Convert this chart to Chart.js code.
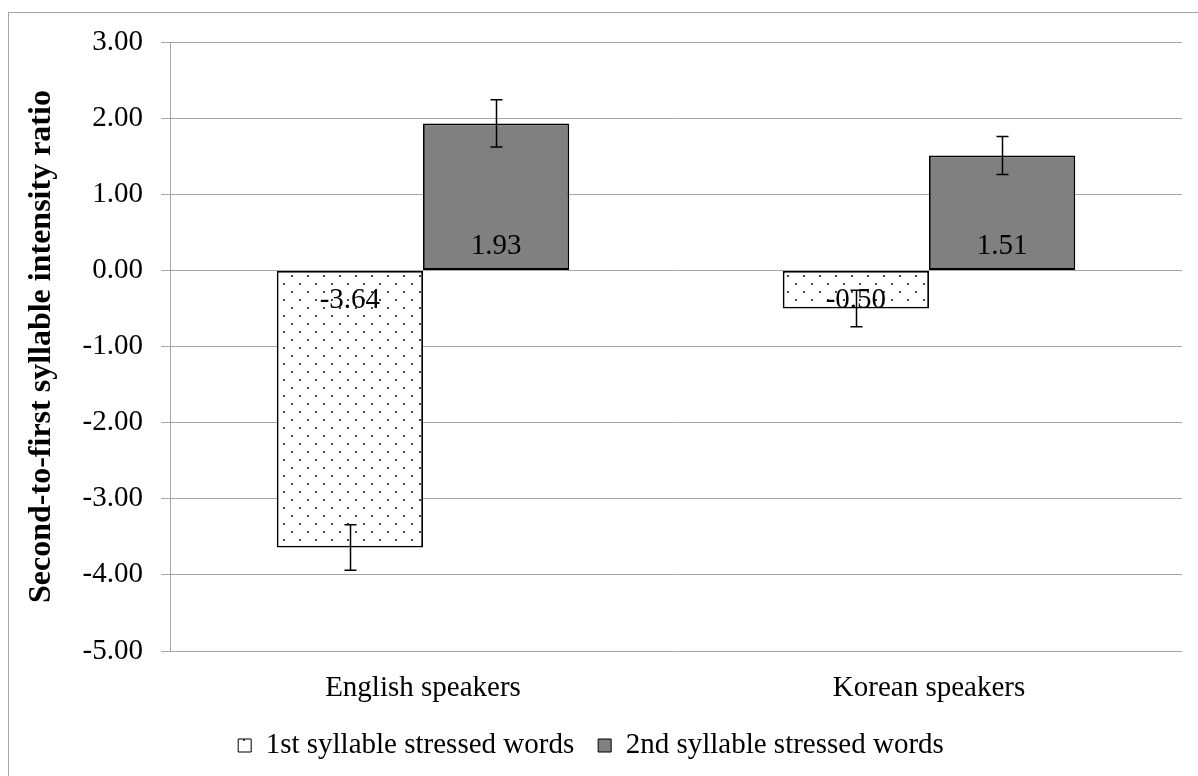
<!DOCTYPE html>
<html>
<head>
<meta charset="utf-8">
<script src="https://cdn.jsdelivr.net/npm/chart.js@4.4.0/dist/chart.umd.min.js"></script>
<style>
  html, body { margin: 0; padding: 0; background: #fff; overflow: hidden; }
  #wrap { position: relative; width: 1198px; height: 776px; }
  #frame { position: absolute; left: 8px; top: 12px; width: 1300px; height: 900px;
           border-left: 1px solid #a6a6a6; border-top: 1px solid #a6a6a6; pointer-events: none; }
  canvas { position: absolute; left: 0; top: 0; }
</style>
</head>
<body>
<div id="wrap">
  <canvas id="chart" width="1198" height="776"></canvas>
  <div id="frame"></div>
</div>
<script>
// Groups and measured means / standard errors
const categories = ['English speakers', 'Korean speakers'];
const seriesNames = ['1st syllable stressed words', '2nd syllable stressed words'];
const firstStressed = [-3.64, -0.50];
const secondStressed = [1.93, 1.51];
const firstStressedErr = [0.30, 0.24];
const secondStressedErr = [0.31, 0.25];
const yTicks = [3, 2, 1, 0, -1, -2, -3, -4, -5];

const FONT = 'Liberation Serif, Times New Roman, serif';
const FONT_SIZE = 29;

// Dotted fill for the first series
function dotPattern() {
  const c = document.createElement('canvas');
  c.width = 16; c.height = 16;
  const g = c.getContext('2d');
  g.fillStyle = '#ffffff';
  g.fillRect(0, 0, 16, 16);
  g.fillStyle = '#3f4862';
  g.fillRect(3, 3, 2, 2);
  g.fillRect(11, 11, 2, 2);
  return document.getElementById('chart').getContext('2d').createPattern(c, 'repeat');
}

const errors = [firstStressedErr, secondStressedErr];

// Value labels placed inside each bar at its base
const valueLabels = {
  id: 'valueLabels',
  afterDatasetsDraw(chart) {
    const ctx = chart.ctx;
    const yScale = chart.scales.y;
    const zero = yScale.getPixelForValue(0);
    ctx.save();
    ctx.font = FONT_SIZE + 'px ' + FONT;
    ctx.fillStyle = '#000';
    ctx.textAlign = 'center';
    ctx.textBaseline = 'middle';
    chart.data.datasets.forEach((ds, i) => {
      const meta = chart.getDatasetMeta(i);
      meta.data.forEach((bar, j) => {
        const v = ds.data[j];
        const y = v >= 0 ? zero - 24 : zero + 30;
        ctx.fillText(v.toFixed(2), bar.x, y);
      });
    });
    ctx.restore();
  }
};

// Error bars (mean ± SE) drawn from the y scale
const errorBars = {
  id: 'errorBars',
  afterDatasetsDraw(chart) {
    const ctx = chart.ctx;
    const yScale = chart.scales.y;
    ctx.save();
    ctx.strokeStyle = '#000';
    ctx.lineWidth = 1.5;
    chart.data.datasets.forEach((ds, i) => {
      const meta = chart.getDatasetMeta(i);
      meta.data.forEach((bar, j) => {
        const v = ds.data[j];
        const e = errors[i][j];
        const top = yScale.getPixelForValue(v + e);
        const bot = yScale.getPixelForValue(v - e);
        const x = Math.round(bar.x) + 0.5;
        ctx.beginPath();
        ctx.moveTo(x, top); ctx.lineTo(x, bot);
        ctx.moveTo(x - 6, top); ctx.lineTo(x + 6, top);
        ctx.moveTo(x - 6, bot); ctx.lineTo(x + 6, bot);
        ctx.stroke();
      });
    });
    ctx.restore();
  }
};

new Chart(document.getElementById('chart'), {
  type: 'bar',
  data: {
    labels: categories,
    datasets: [
      {
        label: seriesNames[0],
        data: firstStressed,
        backgroundColor: dotPattern(),
        borderColor: '#000',
        borderWidth: 1.8,
        borderSkipped: false
      },
      {
        label: seriesNames[1],
        data: secondStressed,
        backgroundColor: '#808080',
        borderColor: '#000',
        borderWidth: 1.8,
        borderSkipped: false
      }
    ]
  },
  options: {
    responsive: false,
    animation: false,
    devicePixelRatio: 1,
    categoryPercentage: 0.578,
    barPercentage: 1.0,
    layout: { padding: { left: 0, right: 16, top: 42, bottom: 6 } },
    plugins: {
      legend: {
        position: 'bottom',
        labels: {
          font: { family: FONT, size: FONT_SIZE },
          color: '#000',
          boxWidth: 13,
          boxHeight: 13,
          padding: 24,
          generateLabels(chart) {
            return chart.data.datasets.map((ds, i) => ({
              text: ds.label,
              fillStyle: ds.backgroundColor,
              strokeStyle: '#000',
              lineWidth: 1,
              datasetIndex: i,
              hidden: false,
              fontColor: '#000'
            }));
          }
        }
      },
      tooltip: { enabled: false }
    },
    scales: {
      x: {
        grid: { display: false, drawTicks: false },
        border: { display: false },
        ticks: { font: { family: FONT, size: FONT_SIZE }, color: '#000', padding: 20 },
        afterFit(scale) { scale.height = 56; }
      },
      y: {
        min: -5,
        max: 3,
        afterBuildTicks(scale) { scale.ticks = yTicks.map(v => ({ value: v })); },
        grid: { color: '#a6a6a6', lineWidth: 1, tickLength: 9 },
        border: { display: true, color: '#a6a6a6', width: 1 },
        ticks: {
          font: { family: FONT, size: FONT_SIZE },
          color: '#000',
          padding: 18,
          callback: v => Number(v).toFixed(2)
        },
        title: {
          display: true,
          text: 'Second-to-first syllable intensity ratio',
          font: { family: FONT, size: 32, weight: 'bold' },
          color: '#000',
          padding: { top: 23, bottom: 0 }
        },
        afterFit(scale) { scale.width = 170; }
      }
    }
  },
  plugins: [valueLabels, errorBars]
});
</script>
</body>
</html>
